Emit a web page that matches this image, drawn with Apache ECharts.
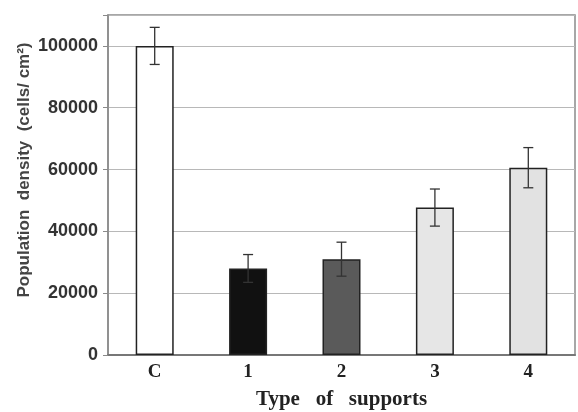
<!DOCTYPE html>
<html>
<head>
<meta charset="utf-8">
<script src="https://cdn.jsdelivr.net/npm/echarts@6/dist/echarts.min.js"></script>
<style>
  html, body { margin: 0; padding: 0; background: #fff; }
  #chart { width: 578px; height: 412px; }
</style>
</head>
<body>
<div id="chart"></div>
<script>
// data
var categories = ['C', '1', '2', '3', '4'];
var densityValues = [100000, 28000, 31000, 47700, 60600];
var densityErrors = [6000, 4500, 5500, 6000, 6500];
var barColors = ['#ffffff', '#111111', '#5a5a5a', '#e6e6e6', '#e2e2e2'];
var yTicks = [0, 20000, 40000, 60000, 80000, 100000];

var myChart = echarts.init(document.getElementById('chart'));

var barData = [];
var errData = [];
for (var i = 0; i < categories.length; i++) {
    barData.push({
        value: densityValues[i],
        itemStyle: { color: barColors[i], borderColor: '#222', borderWidth: 1.5 }
    });
    errData.push([i, densityValues[i] - densityErrors[i], densityValues[i] + densityErrors[i]]);
}

var option = {
    backgroundColor: '#fff',
    animation: false,
    grid: {
        left: 108, right: 3, top: 15, bottom: 57,
        outerBoundsMode: 'none',
        show: true, borderColor: '#8a8a8a', borderWidth: 1.5
    },
    xAxis: {
        type: 'category',
        data: categories,
        name: 'Type   of   supports',
        nameLocation: 'middle',
        nameGap: 34,
        nameTextStyle: {
            color: '#222', fontFamily: 'Liberation Serif', fontWeight: 'bold', fontSize: 21
        },
        axisLine: { lineStyle: { color: '#777', width: 2 } },
        axisTick: { show: false },
        axisLabel: {
            color: '#222', fontFamily: 'Liberation Serif', fontWeight: 'bold',
            fontSize: 19, margin: 8
        }
    },
    yAxis: {
        type: 'value',
        min: 0, max: 110000, interval: 20000,
        axisLine: { show: true, lineStyle: { color: '#8a8a8a', width: 1.5 } },
        axisTick: { show: true, length: 5, lineStyle: { color: '#8a8a8a' } },
        axisLabel: {
            color: '#333', fontFamily: 'Liberation Sans', fontWeight: 'bold',
            fontSize: 18, margin: 10,
            formatter: function (v) { return yTicks.indexOf(v) >= 0 ? String(v) : ''; }
        },
        splitLine: { lineStyle: { color: '#b8b8b8', width: 1 } }
    },
    graphic: [{
        type: 'text',
        x: 24, y: 170,
        rotation: Math.PI / 2,
        style: {
            text: 'Population  density  (cells/ cm\u00b2)',
            fill: '#444',
            font: 'bold 17px "Liberation Sans"',
            textAlign: 'center',
            textVerticalAlign: 'middle'
        }
    }],
    series: [
        {
            type: 'bar',
            barWidth: 38,
            data: barData
        },
        {
            type: 'custom',
            data: errData,
            z: 5,
            renderItem: function (params, api) {
                var x = api.value(0);
                var lo = api.coord([x, api.value(1)]);
                var hi = api.coord([x, api.value(2)]);
                var hw = 5;
                var st = { stroke: '#333', lineWidth: 1.3 };
                return {
                    type: 'group',
                    children: [
                        { type: 'line', shape: { x1: lo[0], y1: lo[1], x2: hi[0], y2: hi[1] }, style: st },
                        { type: 'line', shape: { x1: lo[0] - hw, y1: lo[1], x2: lo[0] + hw, y2: lo[1] }, style: st },
                        { type: 'line', shape: { x1: hi[0] - hw, y1: hi[1], x2: hi[0] + hw, y2: hi[1] }, style: st }
                    ]
                };
            }
        }
    ]
};

myChart.setOption(option);
</script>
</body>
</html>
